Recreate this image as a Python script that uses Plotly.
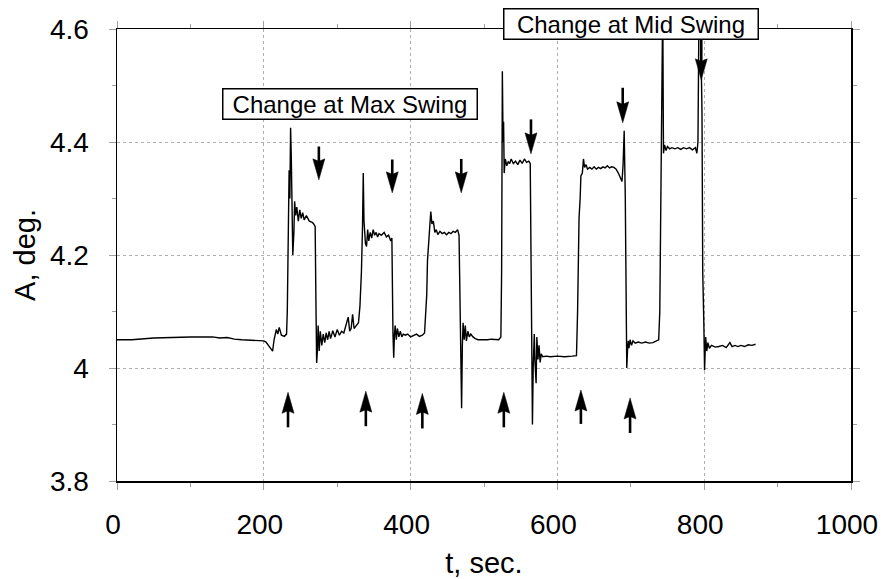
import plotly.graph_objects as go

# ---- data ----
t_sec = [0, 20, 50, 80, 100, 130, 140, 150, 160, 170, 180, 190, 200, 203, 208, 212, 214, 217, 219, 221, 224, 228, 231,
         232, 233.5, 234.5, 235.5, 236.5, 237.5, 238.5, 239.5, 241, 242, 243.5, 245, 247, 249, 251, 253, 255, 258, 262, 266, 268, 270,
         271, 272, 273, 274, 275.5, 277, 279, 281, 283, 285, 287, 289, 291, 294, 297, 300, 303, 306, 309, 312, 315, 317, 319, 321, 323, 326, 329, 331, 333,
         334.5, 335.5, 336.5, 337.5, 338.5, 340, 341.5, 343, 345, 347, 349, 351, 353, 355, 357, 360, 364, 367, 370, 373, 374.5,
         376, 377, 378, 379, 380.5, 382, 384, 386, 388, 390, 393, 396, 400, 404, 408, 412, 416, 419, 421,
         422, 423, 424.5, 426, 427.5, 429, 431, 433, 435, 437, 440, 443, 446, 449, 452, 455, 458, 461, 464, 466,
         467.5, 468.5, 469.5, 470.5, 471.5, 473, 474.5, 476, 478, 480, 482, 485, 488, 492, 496, 500, 505, 510, 515, 520, 523,
         524, 525, 526, 526.7, 527.5, 529, 531, 533, 535, 537, 540, 543, 546, 549, 552, 555, 558, 561, 563,
         564.5, 566, 567, 568.5, 569.5, 571, 572, 573.5, 575, 576.5, 578, 580, 585, 590, 600, 610, 620, 626, 627.5,
         628.5, 629.5, 631, 632, 634, 635.5, 637, 639, 641, 644, 647, 650, 653, 656, 659, 662, 665, 668, 671, 674, 677, 680, 683, 686, 688, 689.5, 691, 692.5,
         693.5, 694.5, 695.5, 696.5, 697.5, 699, 701, 703, 706, 710, 715, 720, 725, 730, 735, 738, 739.5,
         741, 742, 743.5, 744.5, 746, 748, 750, 753, 756, 760, 764, 768, 772, 776, 780, 784, 788, 790, 791.5, 793, 795,
         797, 798, 799.5, 800.5, 802, 803.5, 805, 807, 810, 815, 820, 825, 830, 835, 838, 842, 846, 850, 855, 860, 865, 870]

A_deg = [4.050, 4.050, 4.053, 4.055, 4.055, 4.055, 4.053, 4.054, 4.051, 4.050, 4.049, 4.049, 4.048, 4.046, 4.038, 4.030, 4.050, 4.068, 4.060, 4.072, 4.058, 4.056, 4.060,
         4.10, 4.25, 4.35, 4.30, 4.425, 4.37, 4.25, 4.20, 4.24, 4.295, 4.27, 4.285, 4.26, 4.28, 4.265, 4.275, 4.262, 4.27, 4.26, 4.258, 4.255, 4.25,
         4.12, 4.009, 4.03, 4.075, 4.03, 4.065, 4.04, 4.06, 4.045, 4.062, 4.05, 4.065, 4.052, 4.066, 4.055, 4.068, 4.058, 4.065, 4.062, 4.075, 4.09, 4.065, 4.07, 4.095, 4.07, 4.075, 4.08, 4.11, 4.17,
         4.25, 4.345, 4.26, 4.23, 4.22, 4.215, 4.245, 4.225, 4.24, 4.23, 4.245, 4.235, 4.24, 4.232, 4.238, 4.235, 4.24, 4.232, 4.235, 4.225, 4.23,
         4.06, 4.018, 4.06, 4.075, 4.05, 4.07, 4.055, 4.065, 4.055, 4.06, 4.058, 4.06, 4.055, 4.058, 4.06, 4.056, 4.058, 4.062, 4.10,
         4.13, 4.19, 4.22, 4.25, 4.277, 4.255, 4.26, 4.24, 4.245, 4.236, 4.242, 4.238, 4.24, 4.236, 4.24, 4.238, 4.242, 4.24, 4.245, 4.235,
         4.10, 4.00, 3.929, 4.04, 4.08, 4.05, 4.075, 4.048, 4.065, 4.055, 4.06, 4.055, 4.052, 4.05, 4.05, 4.049, 4.05, 4.051, 4.05, 4.05, 4.055,
         4.17, 4.525, 4.40, 4.436, 4.345, 4.37, 4.358, 4.365, 4.362, 4.37, 4.362, 4.366, 4.36, 4.368, 4.362, 4.37, 4.364, 4.366, 4.362,
         4.10, 3.90, 4.00, 4.06, 4.01, 3.973, 4.055, 4.015, 4.04, 4.01, 4.025, 4.02, 4.021, 4.02, 4.021, 4.02, 4.021, 4.022, 4.10,
         4.20, 4.266, 4.30, 4.34, 4.345, 4.37, 4.355, 4.36, 4.352, 4.355, 4.352, 4.356, 4.352, 4.355, 4.353, 4.356, 4.354, 4.358, 4.354, 4.356, 4.355, 4.352, 4.345, 4.335, 4.33, 4.36, 4.42, 4.30,
         4.10, 4.00, 4.03, 4.048, 4.035, 4.05, 4.04, 4.048, 4.044, 4.046, 4.044, 4.046, 4.044, 4.045, 4.048, 4.05, 4.10,
         4.30, 4.457, 4.65, 4.38, 4.395, 4.385, 4.392, 4.388, 4.39, 4.388, 4.39, 4.387, 4.39, 4.388, 4.39, 4.386, 4.39, 4.38, 4.40, 4.65, 4.62,
         4.45, 4.17, 4.08, 3.996, 4.055, 4.03, 4.045, 4.035, 4.04, 4.037, 4.038, 4.04, 4.036, 4.045, 4.038, 4.04, 4.038, 4.04, 4.038, 4.041, 4.04, 4.042]

down_arrow_t = [275, 375, 469, 564, 689, 796]
down_arrow_tip = [4.333, 4.310, 4.310, 4.379, 4.434, 4.51]
down_arrow_tail = [4.392, 4.369, 4.370, 4.440, 4.496, 4.59]

up_arrow_t = [233, 339, 416, 527, 632, 699]
up_arrow_tip = [3.957, 3.959, 3.955, 3.957, 3.961, 3.947]
up_arrow_tail = [3.895, 3.897, 3.893, 3.895, 3.901, 3.885]

box_text = ["Change at Max Swing", "Change at Mid Swing"]
box_t = [318, 700]
box_A = [4.468, 4.609]

x_range = [0, 1000]
y_range = [3.8, 4.6]
x_ticks = [0, 200, 400, 600, 800, 1000]
x_tick_text = ["0", "200", "400", "600", "800", "1000"]
y_ticks = [3.8, 4.0, 4.2, 4.4, 4.6]
y_tick_text = ["3.8", "4", "4.2", "4.4", "4.6"]

FONT = "Liberation Sans, Arial, sans-serif"

fig = go.Figure()
fig.add_trace(go.Scatter(x=t_sec, y=A_deg, mode="lines",
                         line=dict(color="black", width=1.4), showlegend=False,
                         hoverinfo="skip"))

shapes = []
HEAD_DOWN = "M0,0 L-6,21 L0,18.5 L6,21 Z"
HEAD_UP = "M0,0 L-6,-21 L0,-18.5 L6,-21 Z"
for tt, tip, tail in zip(down_arrow_t, down_arrow_tip, down_arrow_tail):
    shapes.append(dict(type="line", xref="x", yref="y", x0=tt, x1=tt,
                       y0=tail, y1=tip + 0.02, line=dict(color="black", width=2.6)))
    shapes.append(dict(type="path", xref="x", yref="y", xsizemode="pixel", ysizemode="pixel",
                       xanchor=tt, yanchor=tip, path=HEAD_DOWN,
                       fillcolor="black", line=dict(color="black", width=0.5)))
for tt, tip, tail in zip(up_arrow_t, up_arrow_tip, up_arrow_tail):
    shapes.append(dict(type="line", xref="x", yref="y", x0=tt, x1=tt,
                       y0=tail, y1=tip - 0.02, line=dict(color="black", width=2.6)))
    shapes.append(dict(type="path", xref="x", yref="y", xsizemode="pixel", ysizemode="pixel",
                       xanchor=tt, yanchor=tip, path=HEAD_UP,
                       fillcolor="black", line=dict(color="black", width=0.5)))

annotations = []
for txt, bt, ba in zip(box_text, box_t, box_A):
    annotations.append(dict(text=txt, x=bt, y=(ba - y_range[0]) / (y_range[1] - y_range[0]),
                            xref="x", yref="paper", xanchor="center", yanchor="middle",
                            showarrow=False,
                            font=dict(family=FONT, size=24, color="black"),
                            bgcolor="white", bordercolor="black", borderwidth=1.5,
                            borderpad=0, width=253, height=29))

axis_common = dict(showline=True, linecolor="black", linewidth=1.5, mirror="ticks",
                   showgrid=True, gridcolor="#b0b0b0", gridwidth=1, griddash="3px,3px",
                   ticks="outside", ticklen=7, tickcolor="#a0a0a0", tickwidth=1,
                   zeroline=False, automargin=False,
                   tickfont=dict(family=FONT, size=28, color="black"))

fig.update_layout(
    width=884, height=579,
    margin=dict(l=117, r=33, t=29, b=98),
    paper_bgcolor="white", plot_bgcolor="white",
    hovermode=False,
    xaxis=dict(range=x_range, tickvals=x_ticks, ticktext=x_tick_text,
               minor=dict(ticks="outside", ticklen=4, tickcolor="#a0a0a0", dtick=100, showgrid=False),
               title=dict(text="t, sec.", font=dict(family=FONT, size=29, color="black"), standoff=15),
               ticklabelstandoff=11, ticklabelshift=-4, **axis_common),
    yaxis=dict(range=y_range, tickvals=y_ticks, ticktext=y_tick_text,
               minor=dict(ticks="outside", ticklen=4, tickcolor="#a0a0a0", dtick=0.1, showgrid=False),
               title=dict(text="A, deg.", font=dict(family=FONT, size=29, color="black"), standoff=6),
               ticklabelstandoff=14, **axis_common),
    shapes=shapes, annotations=annotations,
)

# remove the default 8px page margin so the 884x579 figure fills the window exactly
fig.write_html("out.html", config={"displayModeBar": False, "staticPlot": True},
               post_script="document.body.style.margin='0';document.body.style.overflow='hidden';")
